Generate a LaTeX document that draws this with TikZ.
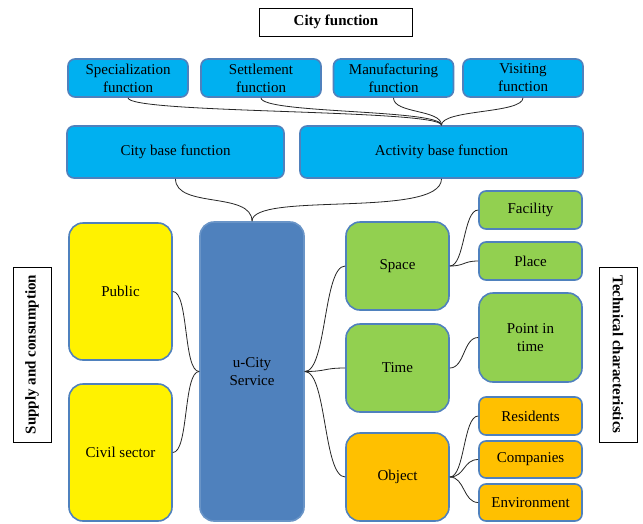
\documentclass[tikz,border=0pt]{standalone}
\usepackage{fontspec}
\setmainfont{Liberation Serif}
\definecolor{cityblue}{RGB}{0,176,240}
\definecolor{servblue}{RGB}{79,129,189}
\definecolor{edgeblue}{RGB}{79,129,189}
\definecolor{greenbox}{RGB}{146,208,80}
\definecolor{orangebox}{RGB}{255,192,0}
\begin{document}
\begin{tikzpicture}[x=1pt, y=-1pt,
    every node/.style={font=\fontsize{15}{18}\selectfont, align=center, inner sep=0pt},
    fbox/.style={draw=edgeblue, line width=1.6pt, rounded corners=7pt},
    bigbox/.style={draw=edgeblue, line width=1.6pt, rounded corners=14pt},
    titlebox/.style={draw=black, line width=0.8pt, fill=white, font=\fontsize{15}{18}\selectfont\bfseries},
    link/.style={line width=0.8pt, black!85}]

    \useasboundingbox[fill=white] (0,0) rectangle (643,523);

        \node[titlebox, minimum width=153, minimum height=28] (title) at(336, 22){City function};

        \node[fbox, fill=cityblue, minimum width=120, minimum height=38] (spec) at(128, 78){Specialization\\function};
        \node[fbox, fill=cityblue, minimum width=120, minimum height=38] (settle) at(261, 78){Settlement\\function};
        \node[fbox, fill=cityblue, minimum width=120, minimum height=38] (manu) at(393.5, 78){Manufacturing\\function};
        \node[fbox, fill=cityblue, minimum width=120, minimum height=38] (visit) at(523, 78){Visiting\\function};

        \node[fbox, fill=cityblue, minimum width=217, minimum height=52] (citybase) at(175.5, 152){City base function};
        \node[fbox, fill=cityblue, minimum width=283, minimum height=52] (actbase) at(441.5, 152){Activity base function};

        \draw[link](spec.south) .. controls +(0,16) and +(0,-16) .. (actbase.north);
        \draw[link](settle.south) .. controls +(0,16) and +(0,-16) .. (actbase.north);
        \draw[link](manu.south) .. controls +(0,16) and +(0,-16) .. (actbase.north);
        \draw[link](visit.south) .. controls +(0,16) and +(0,-16) .. (actbase.north);

        \node[bigbox, fill=yellow, minimum width=103, minimum height=137] (public) at(120.5, 291.5){Public};
        \node[bigbox, fill=yellow, minimum width=103, minimum height=137] (civil) at(120.5, 452.5){Civil sector};

        \node[bigbox, draw=servblue!85!white, fill=servblue, minimum width=104, minimum height=299] (service) at(252, 371.5){u-City\\Service};

        \draw[link](citybase.south) .. controls +(0,30) and +(0,-30) .. (service.north);
        \draw[link](actbase.south) .. controls +(0,40) and +(0,-30) .. (service.north);

        \draw[link](public.east) .. controls +(16,0) and +(-16,0) .. (service.west);
        \draw[link](civil.east) .. controls +(16,0) and +(-16,0) .. (service.west);

        \node[bigbox, fill=greenbox, minimum width=103, minimum height=88] (space) at(397.5, 266){Space};
        \node[bigbox, fill=greenbox, minimum width=103, minimum height=88] (time) at(397.5, 368){Time};
        \node[bigbox, fill=orangebox, minimum width=103, minimum height=88] (object) at(397.5, 477){Object};

        \draw[link](service.east) .. controls +(22,0) and +(-22,0) .. (space.west);
        \draw[link](service.east) .. controls +(22,0) and +(-22,0) .. (time.west);
        \draw[link](service.east) .. controls +(22,0) and +(-22,0) .. (object.west);

        \node[fbox, fill=greenbox, minimum width=103, minimum height=38] (facility) at(530.5, 210){Facility};
        \node[fbox, fill=greenbox, minimum width=103, minimum height=38] (place) at(530.5, 261){Place};
        \node[bigbox, fill=greenbox, minimum width=103, minimum height=89] (moment) at(530.5, 337.5){Point in\\time};

        \node[fbox, fill=orangebox, minimum width=103, minimum height=38] (resid) at(530.5, 416){Residents};
        \node[fbox, fill=orangebox, minimum width=103, minimum height=37] (compan) at(530.5, 459.5){Companies};
        \node[fbox, fill=orangebox, minimum width=103, minimum height=37] (environ) at(530.5, 502.5){Environment};

        \draw[link](space.east) .. controls +(15,0) and +(-15,0) .. (facility.west);
        \draw[link](space.east) .. controls +(15,0) and +(-15,0) .. (place.west);
        \draw[link](time.east) .. controls +(15,0) and +(-15,0) .. (moment.west);
        \draw[link](object.east) .. controls +(15,0) and +(-15,0) .. (resid.west);
        \draw[link](object.east) .. controls +(15,0) and +(-15,0) .. (compan.west);
        \draw[link](object.east) .. controls +(15,0) and +(-15,0) .. (environ.west);

        \node[titlebox, rotate=90, minimum width=175, minimum height=38] (supply) at(32, 354.5){Supply and consumption};
        \node[titlebox, rotate=-90, minimum width=175, minimum height=38] (techn) at(618, 354.5){Technical characteristics};
\end{tikzpicture}
\end{document}
